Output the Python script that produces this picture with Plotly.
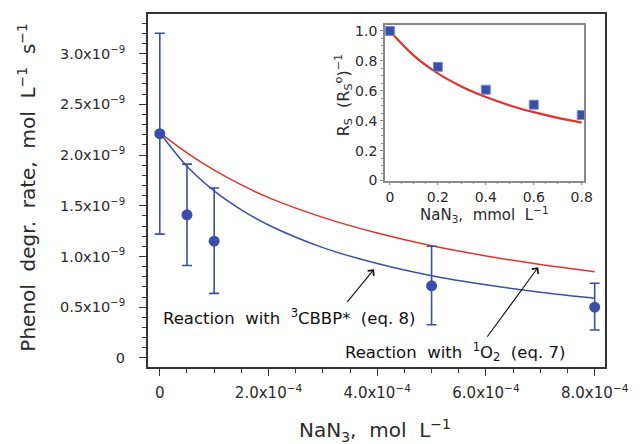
import plotly.graph_objects as go

# ---------------- data ----------------
# main panel: NaN3 (mol/L) vs phenol degradation rate (mol L-1 s-1)
nan3 = [0.0, 0.5e-4, 1.0e-4, 5.0e-4, 8.0e-4]
rate = [2.21e-9, 1.41e-9, 1.15e-9, 0.71e-9, 0.50e-9]
rate_hi = [3.20e-9, 1.91e-9, 1.675e-9, 1.10e-9, 0.735e-9]
rate_lo = [1.22e-9, 0.91e-9, 0.636e-9, 0.327e-9, 0.275e-9]

curve_x = [0.0, 0.5e-4, 1.0e-4, 1.5e-4, 2.0e-4, 3.0e-4, 4.0e-4, 5.0e-4, 6.0e-4, 7.0e-4, 8.0e-4]
curve_o2 = [2.22e-9, 2.02e-9, 1.85e-9, 1.705e-9, 1.58e-9, 1.385e-9, 1.23e-9, 1.105e-9, 1.005e-9, 0.92e-9, 0.85e-9]
curve_cbbp = [2.22e-9, 1.89e-9, 1.647e-9, 1.46e-9, 1.31e-9, 1.087e-9, 0.93e-9, 0.81e-9, 0.72e-9, 0.646e-9, 0.587e-9]

y_tickvals = [0, 0.5e-9, 1.0e-9, 1.5e-9, 2.0e-9, 2.5e-9, 3.0e-9]
y_ticktext = ["0", "0.5x10<sup>−9</sup>", "1.0x10<sup>−9</sup>", "1.5x10<sup>−9</sup>",
              "2.0x10<sup>−9</sup>", "2.5x10<sup>−9</sup>", "3.0x10<sup>−9</sup>"]
x_tickvals = [0, 2e-4, 4e-4, 6e-4, 8e-4]
x_ticktext = ["0", "2.0x10<sup>−4</sup>", "4.0x10<sup>−4</sup>", "6.0x10<sup>−4</sup>", "8.0x10<sup>−4</sup>"]

# inset: NaN3 (mmol/L) vs Rs/Rs0
ins_x = [0.0, 0.2, 0.4, 0.6, 0.8]
ins_y = [1.0, 0.76, 0.607, 0.507, 0.438]
ins_cx = [0.0, 0.1, 0.2, 0.3, 0.4, 0.5, 0.6, 0.7, 0.8]
ins_cy = [1.0, 0.835, 0.716, 0.627, 0.558, 0.502, 0.457, 0.419, 0.387]
ins_xtick = [0, 0.2, 0.4, 0.6, 0.8]
ins_xtext = ["0", "0.2", "0.4", "0.6", "0.8"]
ins_ytick = [0, 0.2, 0.4, 0.6, 0.8, 1.0]
ins_ytext = ["0", "0.2", "0.4", "0.6", "0.8", "1.0"]

# ---------------- styling ----------------
FONT = "DejaVu Sans"
TXT = "#2a2a2a"
BLUE = "#3a4faa"
RED = "#e8302a"

fig = go.Figure()

fig.add_trace(go.Scatter(x=curve_x, y=curve_o2, mode="lines", line=dict(color=RED, width=1.5, shape="spline"),
                         xaxis="x", yaxis="y", showlegend=False))
fig.add_trace(go.Scatter(x=curve_x, y=curve_cbbp, mode="lines", line=dict(color=BLUE, width=1.5, shape="spline"),
                         xaxis="x", yaxis="y", showlegend=False))
fig.add_trace(go.Scatter(
    x=nan3, y=rate, mode="markers",
    marker=dict(color=BLUE, size=11, symbol="circle"),
    error_y=dict(type="data", symmetric=False,
                 array=[h - v for h, v in zip(rate_hi, rate)],
                 arrayminus=[v - l for l, v in zip(rate_lo, rate)],
                 color=BLUE, thickness=1.6, width=5),
    xaxis="x", yaxis="y", showlegend=False))

fig.add_trace(go.Scatter(x=ins_cx, y=ins_cy, mode="lines", line=dict(color=RED, width=2.2, shape="spline"),
                         xaxis="x2", yaxis="y2", showlegend=False))
fig.add_trace(go.Scatter(x=ins_x, y=ins_y, mode="markers",
                         marker=dict(color=BLUE, size=9, symbol="square", line=dict(color="#7b8cd0", width=1)),
                         xaxis="x2", yaxis="y2", showlegend=False))

L, R, T, B = 148, 27, 13, 77
W, H = 640, 444
pw, ph = W - L - R, H - T - B


def px2paper(px, py):
    return (px - L) / pw, (H - B - py) / ph


ix0, _ = px2paper(389, 0)
ix1, _ = px2paper(592, 0)
_, iy1 = px2paper(0, 24)
_, iy0 = px2paper(0, 180)

fig.update_layout(
    width=W, height=H,
    margin=dict(l=L, r=R, t=T, b=B),
    paper_bgcolor="white", plot_bgcolor="white",
    font=dict(family=FONT, color=TXT, size=15),
    xaxis=dict(domain=[0, 1], range=[-0.217e-4, 8.19e-4], showgrid=False, zeroline=False,
               showline=True, linecolor="#333333", linewidth=2, mirror=True,
               ticks="outside", ticklen=7, tickwidth=1.3, tickcolor="#333333",
               tickvals=x_tickvals, ticktext=x_ticktext, tickfont=dict(size=15, family=FONT, color=TXT),
               ticklabelstandoff=4,
               minor=dict(dtick=0.5e-4, tick0=0, ticks="outside", ticklen=4, tickcolor="#333333", tickwidth=1.2),
               anchor="y"),
    yaxis=dict(domain=[0, 1], range=[-0.09e-9, 3.39e-9], showgrid=False, zeroline=False,
               showline=True, linecolor="#333333", linewidth=2, mirror=True,
               ticks="outside", ticklen=7, tickwidth=1.3, tickcolor="#333333",
               tickvals=y_tickvals, ticktext=y_ticktext, tickfont=dict(size=14.5, family=FONT, color=TXT),
               ticklabelstandoff=11,
               minor=dict(dtick=0.1e-9, tick0=0, ticks="outside", ticklen=4, tickcolor="#333333", tickwidth=1.2),
               anchor="x"),
    xaxis2=dict(domain=[ix0, ix1], range=[-0.021, 0.811], showgrid=False, zeroline=False,
                showline=True, linecolor="#8a8a8a", linewidth=1.5, mirror=True,
                ticks="outside", ticklen=3, tickcolor="#8a8a8a",
                tickvals=ins_xtick, ticktext=ins_xtext,
                tickfont=dict(size=14, family=FONT, color=TXT), ticklabelstandoff=0,
                minor=dict(dtick=0.05, tick0=0, ticks="outside", ticklen=2, tickcolor="#8a8a8a"),
                anchor="y2"),
    yaxis2=dict(domain=[iy0, iy1], range=[-0.0, 1.04], showgrid=False, zeroline=False,
                showline=True, linecolor="#8a8a8a", linewidth=1.5, mirror=True,
                ticks="outside", ticklen=3, tickcolor="#8a8a8a",
                tickvals=ins_ytick, ticktext=ins_ytext,
                tickfont=dict(size=14, family=FONT, color=TXT), ticklabelstandoff=0,
                minor=dict(dtick=0.05, tick0=0, ticks="outside", ticklen=2, tickcolor="#8a8a8a"),
                anchor="x2"),
)

anns = []
# axis titles
xt, yt = px2paper(379, 431)
anns.append(dict(text="NaN<sub>3</sub>,  mol  L<sup>−1</sup>", x=xt, y=yt, xref="paper", yref="paper",
                 showarrow=False, font=dict(size=20, family=FONT, color=TXT), xanchor="center", yanchor="middle"))
xt, yt = px2paper(24, 187)
anns.append(dict(text="Phenol  degr.  rate,  mol  L<sup>−1</sup>  s<sup>−1</sup>", x=xt, y=yt,
                 xref="paper", yref="paper", textangle=-90,
                 showarrow=False, font=dict(size=20, family=FONT, color=TXT), xanchor="center", yanchor="middle"))
xt, yt = px2paper(490, 214)
anns.append(dict(text="NaN<sub>3</sub>,  mmol  L<sup>−1</sup>", x=xt, y=yt, xref="paper", yref="paper",
                 showarrow=False, font=dict(size=15, family=FONT, color=TXT), xanchor="center", yanchor="middle"))
xt, yt = px2paper(347, 95)
anns.append(dict(text="R<sub>S</sub>  (R<sub>S</sub><sup>o</sup>)<sup>−1</sup>", x=xt, y=yt,
                 xref="paper", yref="paper", textangle=-90,
                 showarrow=False, font=dict(size=16, family=FONT, color=TXT), xanchor="center", yanchor="middle"))
# text labels
xt, yt = px2paper(161, 317)
anns.append(dict(text="Reaction  with  <sup>3</sup>CBBP*  (eq. 8)", x=xt, y=yt, xref="paper", yref="paper",
                 showarrow=False, font=dict(size=16.5, family=FONT, color="#111111"), xanchor="left", yanchor="middle"))
xt, yt = px2paper(346, 352)
anns.append(dict(text="Reaction  with  <sup>1</sup>O<sub>2</sub>  (eq. 7)", x=xt, y=yt, xref="paper", yref="paper",
                 showarrow=False, font=dict(size=16.5, family=FONT, color="#111111"), xanchor="left", yanchor="middle"))
# arrows (head position in paper coords, tail given as pixel offset)
for (hx, hy, tx, ty) in [(378, 269, 350, 303), (545, 267, 493, 338)]:
    hx_, hy_ = px2paper(hx, hy)
    anns.append(dict(text="", x=hx_, y=hy_, xref="paper", yref="paper", ax=tx - hx, ay=ty - hy,
                     axref="pixel", ayref="pixel", showarrow=True, arrowhead=4, arrowsize=1.4,
                     arrowwidth=1.1, arrowcolor="#111111"))
fig.update_layout(annotations=anns)

fig.write_html("out.html")
